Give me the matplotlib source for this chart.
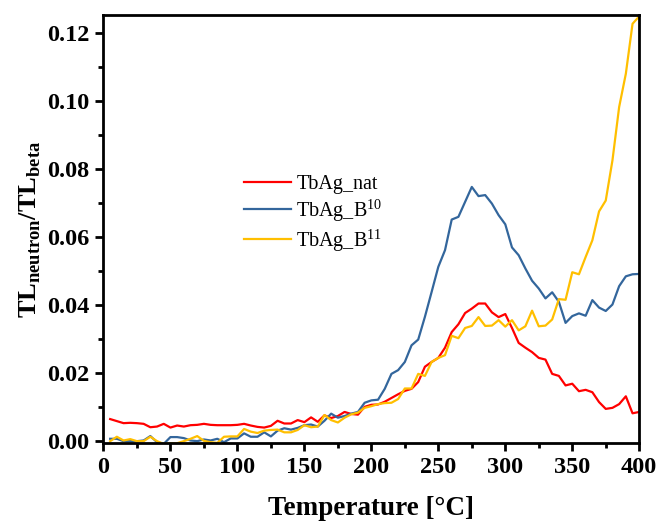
import matplotlib
matplotlib.use('Agg')
import matplotlib.pyplot as plt
from matplotlib.ticker import MultipleLocator
import numpy as np

plt.rcParams['font.family'] = 'Liberation Serif'
plt.rcParams['mathtext.fontset'] = 'custom'
plt.rcParams['mathtext.rm'] = 'Liberation Serif'
plt.rcParams['mathtext.bf'] = 'Liberation Serif:bold'

temperature = np.arange(5, 405, 5)

tbag_nat = [
    0.0065, 0.0059, 0.0053, 0.0054, 0.0053, 0.0051, 0.0041, 0.0043, 0.0051, 0.0040,
    0.0046, 0.0043, 0.0047, 0.0048, 0.0051, 0.0048, 0.0047, 0.0047, 0.0047, 0.0048,
    0.0051, 0.0046, 0.0042, 0.0040, 0.0045, 0.0060, 0.0052, 0.0052, 0.0062, 0.0056,
    0.0070, 0.0057, 0.0076, 0.0068, 0.0074, 0.0086, 0.0080, 0.0078, 0.0101, 0.0107,
    0.0108, 0.0116, 0.0127, 0.0138, 0.0148, 0.0154, 0.0174, 0.0219, 0.0233, 0.0245,
    0.0275, 0.0321, 0.0344, 0.0377, 0.0390, 0.0405, 0.0405, 0.0379, 0.0365, 0.0374,
    0.0333, 0.0289, 0.0275, 0.0262, 0.0245, 0.0240, 0.0198, 0.0192, 0.0164, 0.0169,
    0.0147, 0.0151, 0.0144, 0.0115, 0.0095, 0.0098, 0.0109, 0.0132, 0.0082, 0.0086,
]

tbag_b10 = [
    0.0007, 0.0007, 0.0000, 0.0000, 0.0000, 0.0002, 0.0015, -0.0003, -0.0008, 0.0012,
    0.0012, 0.0009, 0.0002, 0.0000, 0.0005, 0.0002, 0.0007, -0.0003, 0.0008, 0.0008,
    0.0023, 0.0013, 0.0013, 0.0026, 0.0014, 0.0031, 0.0038, 0.0034, 0.0039, 0.0047,
    0.0049, 0.0043, 0.0060, 0.0081, 0.0069, 0.0074, 0.0081, 0.0086, 0.0113, 0.0120,
    0.0122, 0.0154, 0.0198, 0.0209, 0.0233, 0.0282, 0.0299, 0.0366, 0.0439, 0.0513,
    0.0562, 0.0652, 0.0660, 0.0704, 0.0748, 0.0721, 0.0724, 0.0699, 0.0665, 0.0638,
    0.0570, 0.0547, 0.0508, 0.0472, 0.0449, 0.0420, 0.0438, 0.0410, 0.0348, 0.0368,
    0.0376, 0.0369, 0.0415, 0.0393, 0.0383, 0.0402, 0.0456, 0.0485, 0.0491, 0.0492,
]

tbag_b11 = [
    0.0000, 0.0013, 0.0002, 0.0006, 0.0000, 0.0000, 0.0013, 0.0000, -0.0008, -0.0006,
    -0.0006, 0.0000, 0.0007, 0.0015, 0.0001, -0.0003, -0.0005, 0.0013, 0.0014, 0.0014,
    0.0036, 0.0028, 0.0024, 0.0031, 0.0033, 0.0034, 0.0026, 0.0026, 0.0033, 0.0047,
    0.0041, 0.0043, 0.0077, 0.0062, 0.0055, 0.0069, 0.0079, 0.0084, 0.0098, 0.0103,
    0.0109, 0.0112, 0.0113, 0.0124, 0.0155, 0.0155, 0.0198, 0.0192, 0.0233, 0.0245,
    0.0253, 0.0310, 0.0303, 0.0333, 0.0339, 0.0365, 0.0339, 0.0340, 0.0356, 0.0337,
    0.0356, 0.0326, 0.0338, 0.0384, 0.0338, 0.0340, 0.0358, 0.0418, 0.0416, 0.0497,
    0.0491, 0.0542, 0.0591, 0.0676, 0.0708, 0.0826, 0.0983, 0.1081, 0.1228, 0.1250,
]

fig = plt.figure(figsize=(6.59, 5.27), dpi=100)
ax = fig.add_axes([0.157, 0.159, 0.813, 0.812])

ax.plot(temperature, tbag_nat, color='#ff0000', lw=1.6, label='TbAg_nat')
ax.plot(temperature, tbag_b10, color='#33669c', lw=1.6, label='TbAg_B$^{10}$')
ax.plot(temperature, tbag_b11, color='#ffbf00', lw=1.6, label='TbAg_B$^{11}$')

ax.set_xlim(0, 400)
ax.set_ylim(-0.0006, 0.1253)
ax.xaxis.set_major_locator(MultipleLocator(50))
ax.xaxis.set_minor_locator(MultipleLocator(25))
ax.yaxis.set_major_locator(MultipleLocator(0.02))
ax.yaxis.set_minor_locator(MultipleLocator(0.01))
ax.yaxis.set_major_formatter(matplotlib.ticker.FormatStrFormatter('%.2f'))

for s in ax.spines.values():
    s.set_linewidth(2.0)
ax.tick_params(which='major', direction='out', length=6, width=2, labelsize=17.5, pad=4)
ax.tick_params(which='minor', direction='out', length=3.5, width=2)
for lab in ax.get_xticklabels() + ax.get_yticklabels():
    lab.set_fontweight('bold')

ax.set_xlabel('Temperature [°C]', fontsize=19.5, fontweight='bold', labelpad=13)
ax.set_ylabel(r'$\mathbf{TL}_{\mathbf{neutron}}\mathbf{/TL}_{\mathbf{beta}}$', fontsize=19, labelpad=3)

ax.legend(loc='upper left', bbox_to_anchor=(0.229, 0.67), frameon=False, fontsize=14.5,
          handlelength=2.33, labelspacing=0.15, handletextpad=0.25)

fig.savefig('out.png', dpi=100)
